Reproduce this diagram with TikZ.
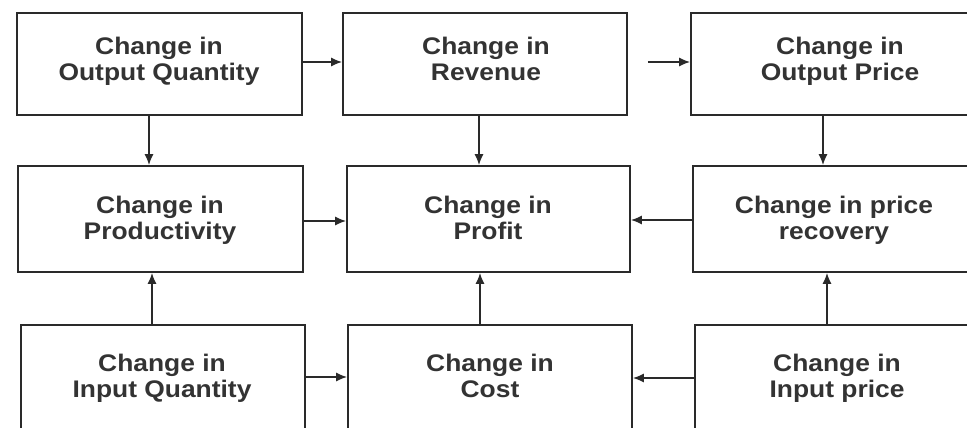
\documentclass[tikz,border=0pt]{standalone}
\usepackage{fontspec}
\newfontfamily\labfont[FakeStretch=1.1]{Liberation Sans Bold}
\usetikzlibrary{arrows.meta}
\definecolor{ink}{HTML}{2A2A2A}
\definecolor{txt}{HTML}{333333}
\tikzset{
  box/.style={draw=ink, line width=1.8pt, rectangle, inner sep=0pt},
  lab/.style={anchor=north, inner sep=0pt, align=center, text=txt,
              font=\labfont\fontsize{24}{26}\selectfont},
  arr/.style={draw=ink, line width=1.4pt, -{Latex[length=11pt,width=9pt]}}
}
\begin{document}
\begin{tikzpicture}[x=1pt,y=-1pt]
\useasboundingbox (0,0) rectangle (967,428);
\clip (0,0) rectangle (967,428);
\fill[white] (0,0) rectangle (967,428);
% boxes
\node[box, minimum width=285pt, minimum height=102pt] (A1) at (159.5,64) {};
\node[box, minimum width=284pt, minimum height=102pt] (B1) at (485,64) {};
\node[box, minimum width=290pt, minimum height=102pt] (C1) at (836,64) {};
\node[box, minimum width=285pt, minimum height=106pt] (A2) at (160.5,219) {};
\node[box, minimum width=283pt, minimum height=106pt] (B2) at (488.5,219) {};
\node[box, minimum width=288pt, minimum height=106pt] (C2) at (837,219) {};
\node[box, minimum width=284pt, minimum height=104pt] (A3) at (163,377) {};
\node[box, minimum width=284pt, minimum height=104pt] (B3) at (490,377) {};
\node[box, minimum width=286pt, minimum height=104pt] (C3) at (838,377) {};
% texts
\node[lab] (tA1) at (159,36.5) {Change in\\Output Quantity};
\node[lab] (tB1) at (486,36.5) {Change in\\Revenue};
\node[lab] (tC1) at (840,36.5) {Change in\\Output Price};
\node[lab] (tA2) at (160,195.5) {Change in\\Productivity};
\node[lab] (tB2) at (488,195.5) {Change in\\Profit};
\node[lab] (tC2) at (834,195.5) {Change in price\\recovery};
\node[lab] (tA3) at (162,353.5) {Change in\\Input Quantity};
\node[lab] (tB3) at (490,353.5) {Change in\\Cost};
\node[lab] (tC3) at (837,353.5) {Change in\\Input price};
% row 1 horizontal
\draw[arr] ([yshift=2pt]A1.east) -- ([yshift=2pt]B1.west);
\draw[arr, shorten <=20pt] ([yshift=2pt]B1.east) -- ([yshift=2pt]C1.west);
% row 1 -> row 2
\draw[arr] ([xshift=-10.5pt]A1.south) -- ([xshift=-11.5pt]A2.north);
\draw[arr] ([xshift=-6pt]B1.south) -- ([xshift=-9.5pt]B2.north);
\draw[arr] ([xshift=-13pt]C1.south) -- ([xshift=-14pt]C2.north);
% row 2 horizontal
\draw[arr] ([yshift=-2pt]A2.east) -- ([yshift=-2pt]B2.west);
\draw[arr] ([yshift=-1pt]C2.west) -- ([yshift=-1pt]B2.east);
% row 3 -> row 2
\draw[arr] ([xshift=-11pt]A3.north) -- ([xshift=-8.5pt]A2.south);
\draw[arr] ([xshift=-10pt]B3.north) -- ([xshift=-8.5pt]B2.south);
\draw[arr] ([xshift=-11pt]C3.north) -- ([xshift=-10pt]C2.south);
% row 3 horizontal
\draw[arr] (A3.east) -- (B3.west);
\draw[arr] ([yshift=-1pt]C3.west) -- ([yshift=-1pt]B3.east);
\end{tikzpicture}
\end{document}
